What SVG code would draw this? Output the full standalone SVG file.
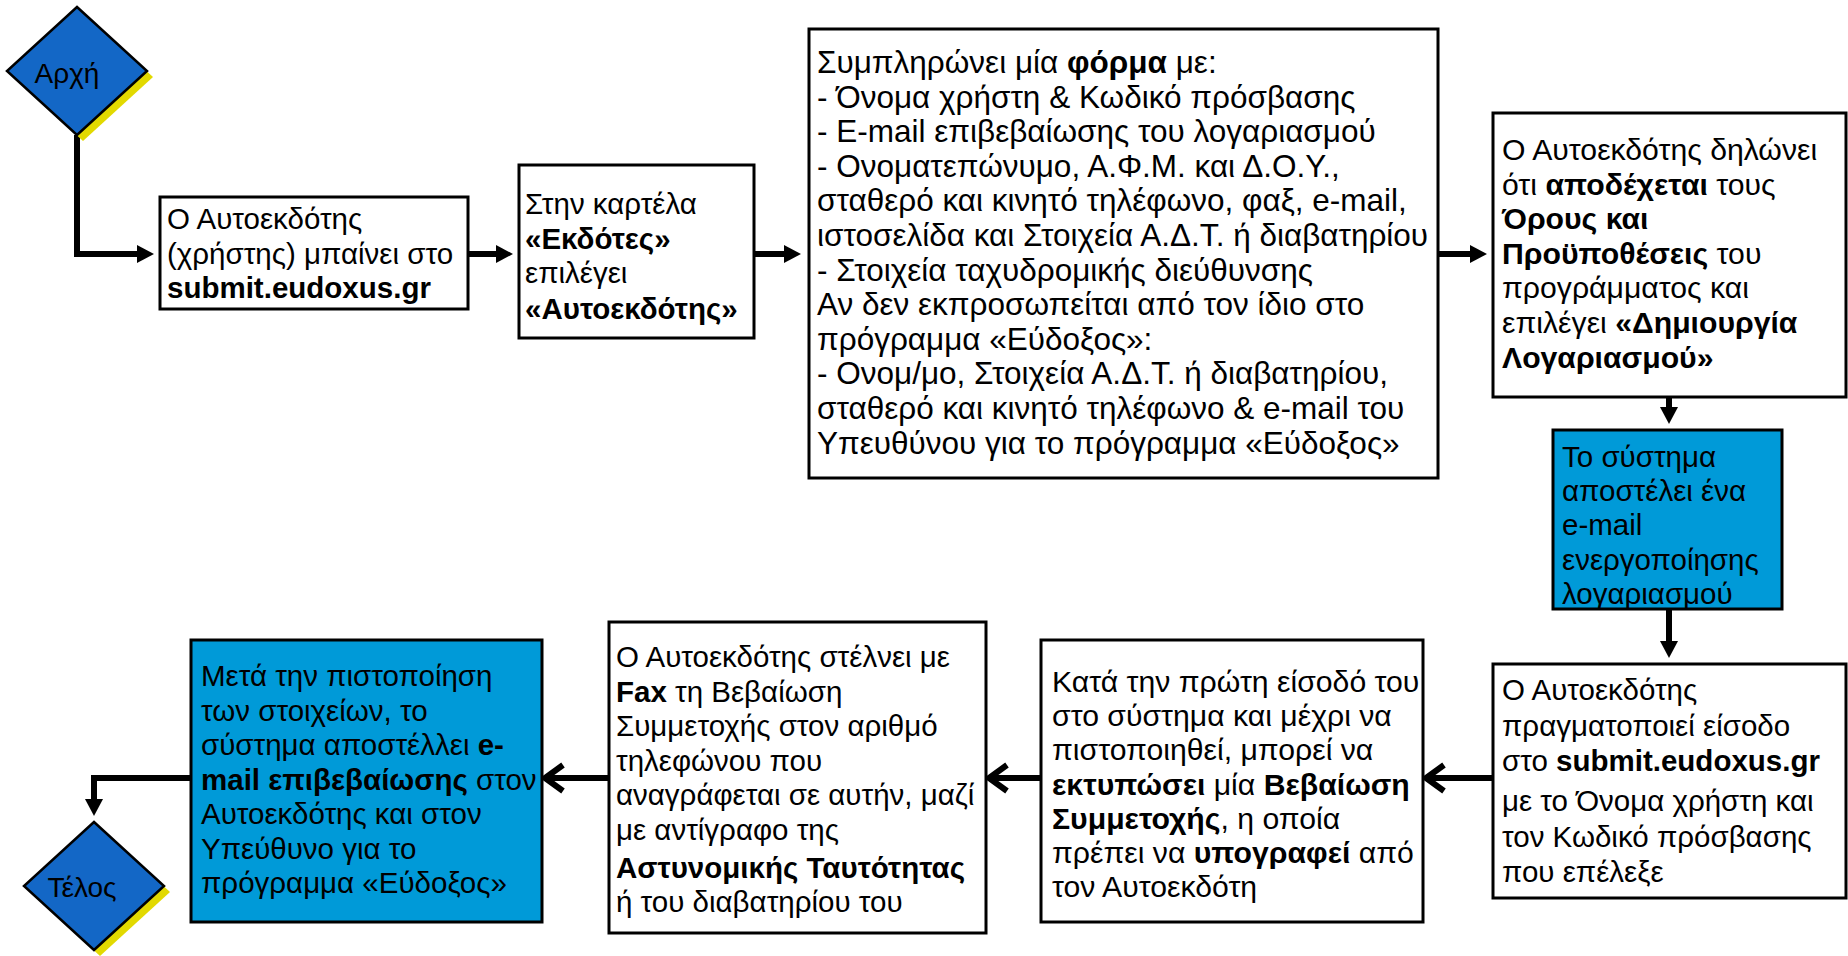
<svg xmlns="http://www.w3.org/2000/svg" width="1848" height="956" viewBox="0 0 1848 956">
<defs>
<style>
.box{fill:#ffffff;stroke:#000;stroke-width:3}
.blue{fill:#009ad8;stroke:#000;stroke-width:3}
.dia{fill:#1367c6;stroke:#000;stroke-width:2.5}
.shadow{fill:#e2d900}
.t{font-family:"Liberation Sans",Arial,sans-serif;font-size:29.5px;fill:#000}
.big{font-size:31.5px}
.mid{font-size:30.2px}
.dt{font-family:"Liberation Sans",Arial,sans-serif;font-size:28px;fill:#000}
.b{font-weight:bold}
.conn{fill:none;stroke:#000;stroke-width:6;stroke-linejoin:miter}
</style>
<marker id="tri" markerUnits="userSpaceOnUse" markerWidth="18" markerHeight="20" refX="6" refY="10" orient="auto" overflow="visible">
<path d="M0,1 L17,10 L0,19 Z" fill="#000"/>
</marker>
<marker id="chev" markerUnits="userSpaceOnUse" markerWidth="26" markerHeight="32" refX="22" refY="15" orient="auto" overflow="visible">
<path d="M4,2 L22,15 L4,28" fill="none" stroke="#000" stroke-width="6"/>
</marker>
</defs>
<rect width="1848" height="956" fill="#ffffff"/>

<g id="connectors">
<path class="conn" d="M77,135 V254 H143" marker-end="url(#tri)"/>
<path class="conn" d="M468,254 H502" marker-end="url(#tri)"/>
<path class="conn" d="M754,254 H790" marker-end="url(#tri)"/>
<path class="conn" d="M1438,254 H1476" marker-end="url(#tri)"/>
<path class="conn" d="M1669,397 V413" marker-end="url(#tri)"/>
<path class="conn" d="M1669,609 V647" marker-end="url(#tri)"/>
<path class="conn" d="M1493,778 H1426" marker-end="url(#chev)"/>
<path class="conn" d="M1041,778 H989" marker-end="url(#chev)"/>
<path class="conn" d="M609,778 H545" marker-end="url(#chev)"/>
<path class="conn" d="M191,778 H94 V805" marker-end="url(#tri)"/>
</g>

<g id="start">
<polygon class="shadow" points="83,13 153,77 83,141 13,77"/>
<polygon class="dia" points="77,7 147,71 77,135 7,71"/>
<text class="dt" x="67" y="83" text-anchor="middle">Αρχή</text>
</g>

<g id="box1">
<rect class="box" x="160" y="197" width="308" height="112"/>
<text class="t" x="167" y="229">
<tspan x="167">Ο Αυτοεκδότης</tspan>
<tspan x="167" dy="34.5">(χρήστης) μπαίνει στο</tspan>
<tspan x="167" dy="34.5" class="b">submit.eudoxus.gr</tspan>
</text>
</g>

<g id="box2">
<rect class="box" x="519" y="165" width="235" height="173"/>
<text class="t" x="525" y="214">
<tspan x="525">Στην καρτέλα</tspan>
<tspan x="525" dy="34.5" class="b">«Εκδότες»</tspan>
<tspan x="525" dy="34.5">επιλέγει</tspan>
<tspan x="525" dy="36" class="b">«Αυτοεκδότης»</tspan>
</text>
</g>

<g id="box3">
<rect class="box" x="809" y="29" width="629" height="449"/>
<text class="t big" x="817" y="73">
<tspan x="817">Συμπληρώνει μία <tspan class="b">φόρμα</tspan> με:</tspan>
<tspan x="817" dy="34.6">- Όνομα χρήστη &amp; Κωδικό πρόσβασης</tspan>
<tspan x="817" dy="34.6">- E-mail επιβεβαίωσης του λογαριασμού</tspan>
<tspan x="817" dy="34.6">- Ονοματεπώνυμο, Α.Φ.Μ. και Δ.Ο.Υ.,</tspan>
<tspan x="817" dy="34.6">σταθερό και κινητό τηλέφωνο, φαξ, e-mail,</tspan>
<tspan x="817" dy="34.6">ιστοσελίδα και Στοιχεία Α.Δ.Τ. ή διαβατηρίου</tspan>
<tspan x="817" dy="34.6">- Στοιχεία ταχυδρομικής διεύθυνσης</tspan>
<tspan x="817" dy="34.6">Αν δεν εκπροσωπείται από τον ίδιο στο</tspan>
<tspan x="817" dy="34.6">πρόγραμμα «Εύδοξος»:</tspan>
<tspan x="817" dy="34.6">- Ονομ/μο, Στοιχεία Α.Δ.Τ. ή διαβατηρίου,</tspan>
<tspan x="817" dy="34.6">σταθερό και κινητό τηλέφωνο &amp; e-mail του</tspan>
<tspan x="817" dy="34.6">Υπευθύνου για το πρόγραμμα «Εύδοξος»</tspan>
</text>
</g>

<g id="box4">
<rect class="box" x="1493" y="113" width="353" height="284"/>
<text class="t mid" x="1502" y="160">
<tspan x="1502">Ο Αυτοεκδότης δηλώνει</tspan>
<tspan x="1502" dy="34.5">ότι <tspan class="b">αποδέχεται</tspan> τους</tspan>
<tspan x="1502" dy="34.5" class="b">Όρους και</tspan>
<tspan x="1502" dy="34.5"><tspan class="b">Προϋποθέσεις</tspan> του</tspan>
<tspan x="1502" dy="34.5">προγράμματος και</tspan>
<tspan x="1502" dy="34.5">επιλέγει <tspan class="b">«Δημιουργία</tspan></tspan>
<tspan x="1502" dy="35" class="b">Λογαριασμού»</tspan>
</text>
</g>

<g id="box5">
<rect class="blue" x="1553" y="430" width="229" height="179"/>
<text class="t" x="1562" y="467">
<tspan x="1562">Το σύστημα</tspan>
<tspan x="1562" dy="34.2">αποστέλει ένα</tspan>
<tspan x="1562" dy="34.2">e-mail</tspan>
<tspan x="1562" dy="34.2">ενεργοποίησης</tspan>
<tspan x="1562" dy="34.2">λογαριασμού</tspan>
</text>
</g>

<g id="box6">
<rect class="box" x="1493" y="664" width="353" height="234"/>
<text class="t" x="1502" y="700">
<tspan x="1502">Ο Αυτοεκδότης</tspan>
<tspan x="1502" dy="35.5">πραγματοποιεί είσοδο</tspan>
<tspan x="1502" dy="35.5">στο <tspan class="b">submit.eudoxus.gr</tspan></tspan>
<tspan x="1502" dy="40">με το Όνομα χρήστη και</tspan>
<tspan x="1502" dy="35.5">τον Κωδικό πρόσβασης</tspan>
<tspan x="1502" dy="35.5">που επέλεξε</tspan>
</text>
</g>

<g id="box7">
<rect class="box" x="1041" y="640" width="382" height="282"/>
<text class="t mid" x="1052" y="692">
<tspan x="1052">Κατά την πρώτη είσοδό του</tspan>
<tspan x="1052" dy="34.2">στο σύστημα και μέχρι να</tspan>
<tspan x="1052" dy="34.2">πιστοποιηθεί, μπορεί να</tspan>
<tspan x="1052" dy="34.2"><tspan class="b">εκτυπώσει</tspan> μία <tspan class="b">Βεβαίωση</tspan></tspan>
<tspan x="1052" dy="34.2"><tspan class="b">Συμμετοχής</tspan>, η οποία</tspan>
<tspan x="1052" dy="34.2">πρέπει να <tspan class="b">υπογραφεί</tspan> από</tspan>
<tspan x="1052" dy="34.2">τον Αυτοεκδότη</tspan>
</text>
</g>

<g id="box8">
<rect class="box" x="609" y="622" width="377" height="311"/>
<text class="t" x="616" y="667">
<tspan x="616">Ο Αυτοεκδότης στέλνει με</tspan>
<tspan x="616" dy="34.5"><tspan class="b">Fax</tspan> τη Βεβαίωση</tspan>
<tspan x="616" dy="34.5">Συμμετοχής στον αριθμό</tspan>
<tspan x="616" dy="34.5">τηλεφώνου που</tspan>
<tspan x="616" dy="34.5">αναγράφεται σε αυτήν, μαζί</tspan>
<tspan x="616" dy="34.5">με αντίγραφο της</tspan>
<tspan x="616" dy="38" class="b">Αστυνομικής Ταυτότητας</tspan>
<tspan x="616" dy="34.5">ή του διαβατηρίου του</tspan>
</text>
</g>

<g id="box9">
<rect class="blue" x="191" y="640" width="351" height="282"/>
<text class="t" x="201" y="686">
<tspan x="201">Μετά την πιστοποίηση</tspan>
<tspan x="201" dy="34.5">των στοιχείων, το</tspan>
<tspan x="201" dy="34.5">σύστημα αποστέλλει <tspan class="b">e-</tspan></tspan>
<tspan x="201" dy="34.5"><tspan class="b">mail επιβεβαίωσης</tspan> στον</tspan>
<tspan x="201" dy="34.5">Αυτοεκδότης και στον</tspan>
<tspan x="201" dy="34.5">Υπεύθυνο για το</tspan>
<tspan x="201" dy="34.5">πρόγραμμα «Εύδοξος»</tspan>
</text>
</g>

<g id="end">
<polygon class="shadow" points="100,828 170,892 100,956 30,892"/>
<polygon class="dia" points="94,822 164,886 94,950 24,886"/>
<text class="dt" x="82" y="897" text-anchor="middle">Τέλος</text>
</g>
</svg>
